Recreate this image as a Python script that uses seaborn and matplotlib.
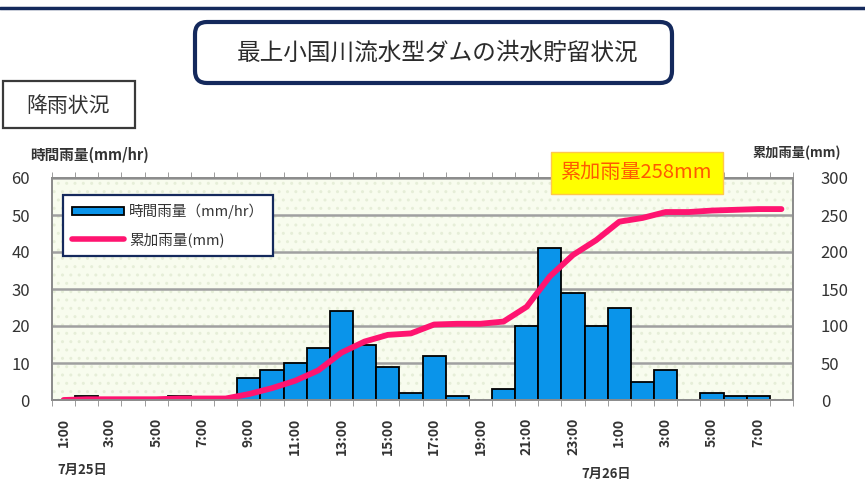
import seaborn as sns
import matplotlib.pyplot as plt
import numpy as np
import pandas as pd
from matplotlib.patches import Patch, Rectangle, FancyBboxPatch
from matplotlib.lines import Line2D

# hourly data, 7/25 1:00 -> 7/26 8:00
hours = ['1:00', '2:00', '3:00', '4:00', '5:00', '6:00', '7:00', '8:00',
         '9:00', '10:00', '11:00', '12:00', '13:00', '14:00', '15:00', '16:00',
         '17:00', '18:00', '19:00', '20:00', '21:00', '22:00', '23:00', '0:00',
         '1:00', '2:00', '3:00', '4:00', '5:00', '6:00', '7:00', '8:00']
hourly_rain = [0, 1, 0, 0, 0, 1, 0, 0,
               6, 8, 10, 14, 24, 15, 9, 2,
               12, 1, 0, 3, 20, 41, 29, 20,
               25, 5, 8, 0, 2, 1, 1, 0]
cum_rain = [0, 1, 1, 1, 1, 2, 2, 2,
            8, 16, 26, 40, 64, 79, 88, 90,
            102, 103, 103, 106, 126, 167, 196, 216,
            241, 246, 254, 254, 256, 257, 258, 258]

title = '最上小国川流水型ダムの洪水貯留状況'
section = '降雨状況'
left_label = '時間雨量(mm/hr)'
right_label = '累加雨量(mm)'
legend_labels = ['時間雨量（mm/hr）', '累加雨量(mm)']
total_label = '累加雨量258mm'
date_labels = ['7月25日', '7月26日']

df = pd.DataFrame({'idx': np.arange(len(hours)), 'hour': hours,
                   'hourly': hourly_rain, 'cum': cum_rain})

BAR = '#0a94ea'
LINE = '#ff1470'
GRID = '#a0a0a0'
NAVY = '#14295c'

sns.set_style('white')
plt.rcParams['font.family'] = ['Noto Sans CJK JP', 'DejaVu Sans']

W, H = 865, 486
fig, ax = plt.subplots(figsize=(W / 100, H / 100), dpi=100)
fig.subplots_adjust(left=52 / W, right=793 / W, bottom=1 - 400 / H, top=1 - 178 / H)

# pale dotted plot background
ax.set_facecolor('#f8fcee')
ax.add_patch(Rectangle((0, 0), 1, 1, transform=ax.transAxes, facecolor='none',
                       hatch='..', edgecolor='#e6eed8', lw=0, zorder=0.1))

sns.barplot(data=df, x='idx', y='hourly', color=BAR, saturation=1, width=1.0,
            edgecolor='black', linewidth=1.3, ax=ax, zorder=2)
ax.set_xlim(-0.5, len(hours) - 0.5)
ax.set_ylim(0, 60)
ax.set_yticks(np.arange(0, 61, 10))
ax.yaxis.grid(True, color=GRID, lw=1.8)
ax.set_axisbelow(True)
ax.set_xlabel('')
ax.set_ylabel('')

ax2 = ax.twinx()
sns.lineplot(data=df, x='idx', y='cum', color=LINE, lw=4.2, ax=ax2,
             solid_capstyle='round')
ax2.set_ylim(0, 300)
ax2.set_yticks(np.arange(0, 301, 50))
ax2.set_ylabel('')
ax2.set_xlabel('')

# x ticks: labels every two hours, tick marks at hour boundaries
ax.set_xticks(df['idx'][::2])
ax.set_xticklabels(df['hour'][::2], rotation=90, fontsize=10,
                   fontweight='bold', color='#333333')
ax.set_xticks(np.arange(-0.5, len(hours), 1), minor=True)
ax.tick_params(axis='x', which='major', length=0, pad=13)
ax.tick_params(axis='x', which='minor', length=4, direction='out',
               color='#8c8c8c', top=True, bottom=True)
ax.tick_params(axis='y', length=0, pad=16, labelsize=12, labelcolor='#333333')
ax2.tick_params(axis='y', length=0, pad=20, labelsize=12, labelcolor='#333333')
for a in (ax, ax2):
    for s in a.spines.values():
        s.set_color('#8c8c8c')
        s.set_linewidth(1.3)

handles = [Patch(facecolor=BAR, edgecolor='black', lw=1.3),
           Line2D([], [], color=LINE, lw=4)]
leg = ax2.legend(handles, legend_labels, loc='upper left',
                 bbox_to_anchor=((63 - 52) / 741, (400 - 195) / 222),
                 borderaxespad=0, fontsize=10.5, handlelength=3.6,
                 handleheight=0.55, handletextpad=0.35, labelspacing=0.9,
                 borderpad=0.6, fancybox=False, framealpha=1)
leg.get_frame().set_edgecolor(NAVY)
leg.get_frame().set_linewidth(1.6)
for t in leg.get_texts():
    t.set_color('#333333')

# texts in pixel positions
def px(x, y):
    return x / W, 1 - y / H

fig.text(*px(30, 155), left_label, fontsize=10.5, fontweight='bold',
         color='#333333', ha='left', va='center')
fig.text(*px(752, 153), right_label, fontsize=9.5, fontweight='bold',
         color='#333333', ha='left', va='center')
fig.text(*px(82, 470), date_labels[0], fontsize=9.5, fontweight='bold',
         color='#333333', ha='center', va='center')
fig.text(*px(606, 474), date_labels[1], fontsize=9.5, fontweight='bold',
         color='#333333', ha='center', va='center')

fig.text(*px(637, 173), total_label, fontsize=14.5, color='#ff5a00',
         ha='center', va='center',
         bbox=dict(boxstyle='square,pad=0.5', facecolor='#ffff00',
                   edgecolor='#ffc84a', lw=1))

# header line
fig.add_artist(Line2D([0, 1], [1 - 8 / H, 1 - 8 / H], color=NAVY, lw=2.5,
                      transform=fig.transFigure))

# title box
fig.add_artist(FancyBboxPatch((1.95, (H - 83) / 100), 4.77, 0.61,
                              boxstyle='round,pad=0,rounding_size=0.12',
                              transform=fig.dpi_scale_trans, facecolor='white',
                              edgecolor=NAVY, lw=3))
fig.text(*px(438, 53), title, fontsize=17, color='#2b2b2b',
         ha='center', va='center')

# section box
fig.add_artist(Rectangle((0.03, (H - 128) / 100), 1.32, 0.47,
                         transform=fig.dpi_scale_trans, facecolor='white',
                         edgecolor='#3a3a3a', lw=1.6))
fig.text(*px(68, 106), section, fontsize=15, color='#333333',
         ha='center', va='center')

fig.savefig('out.png', dpi=100)
